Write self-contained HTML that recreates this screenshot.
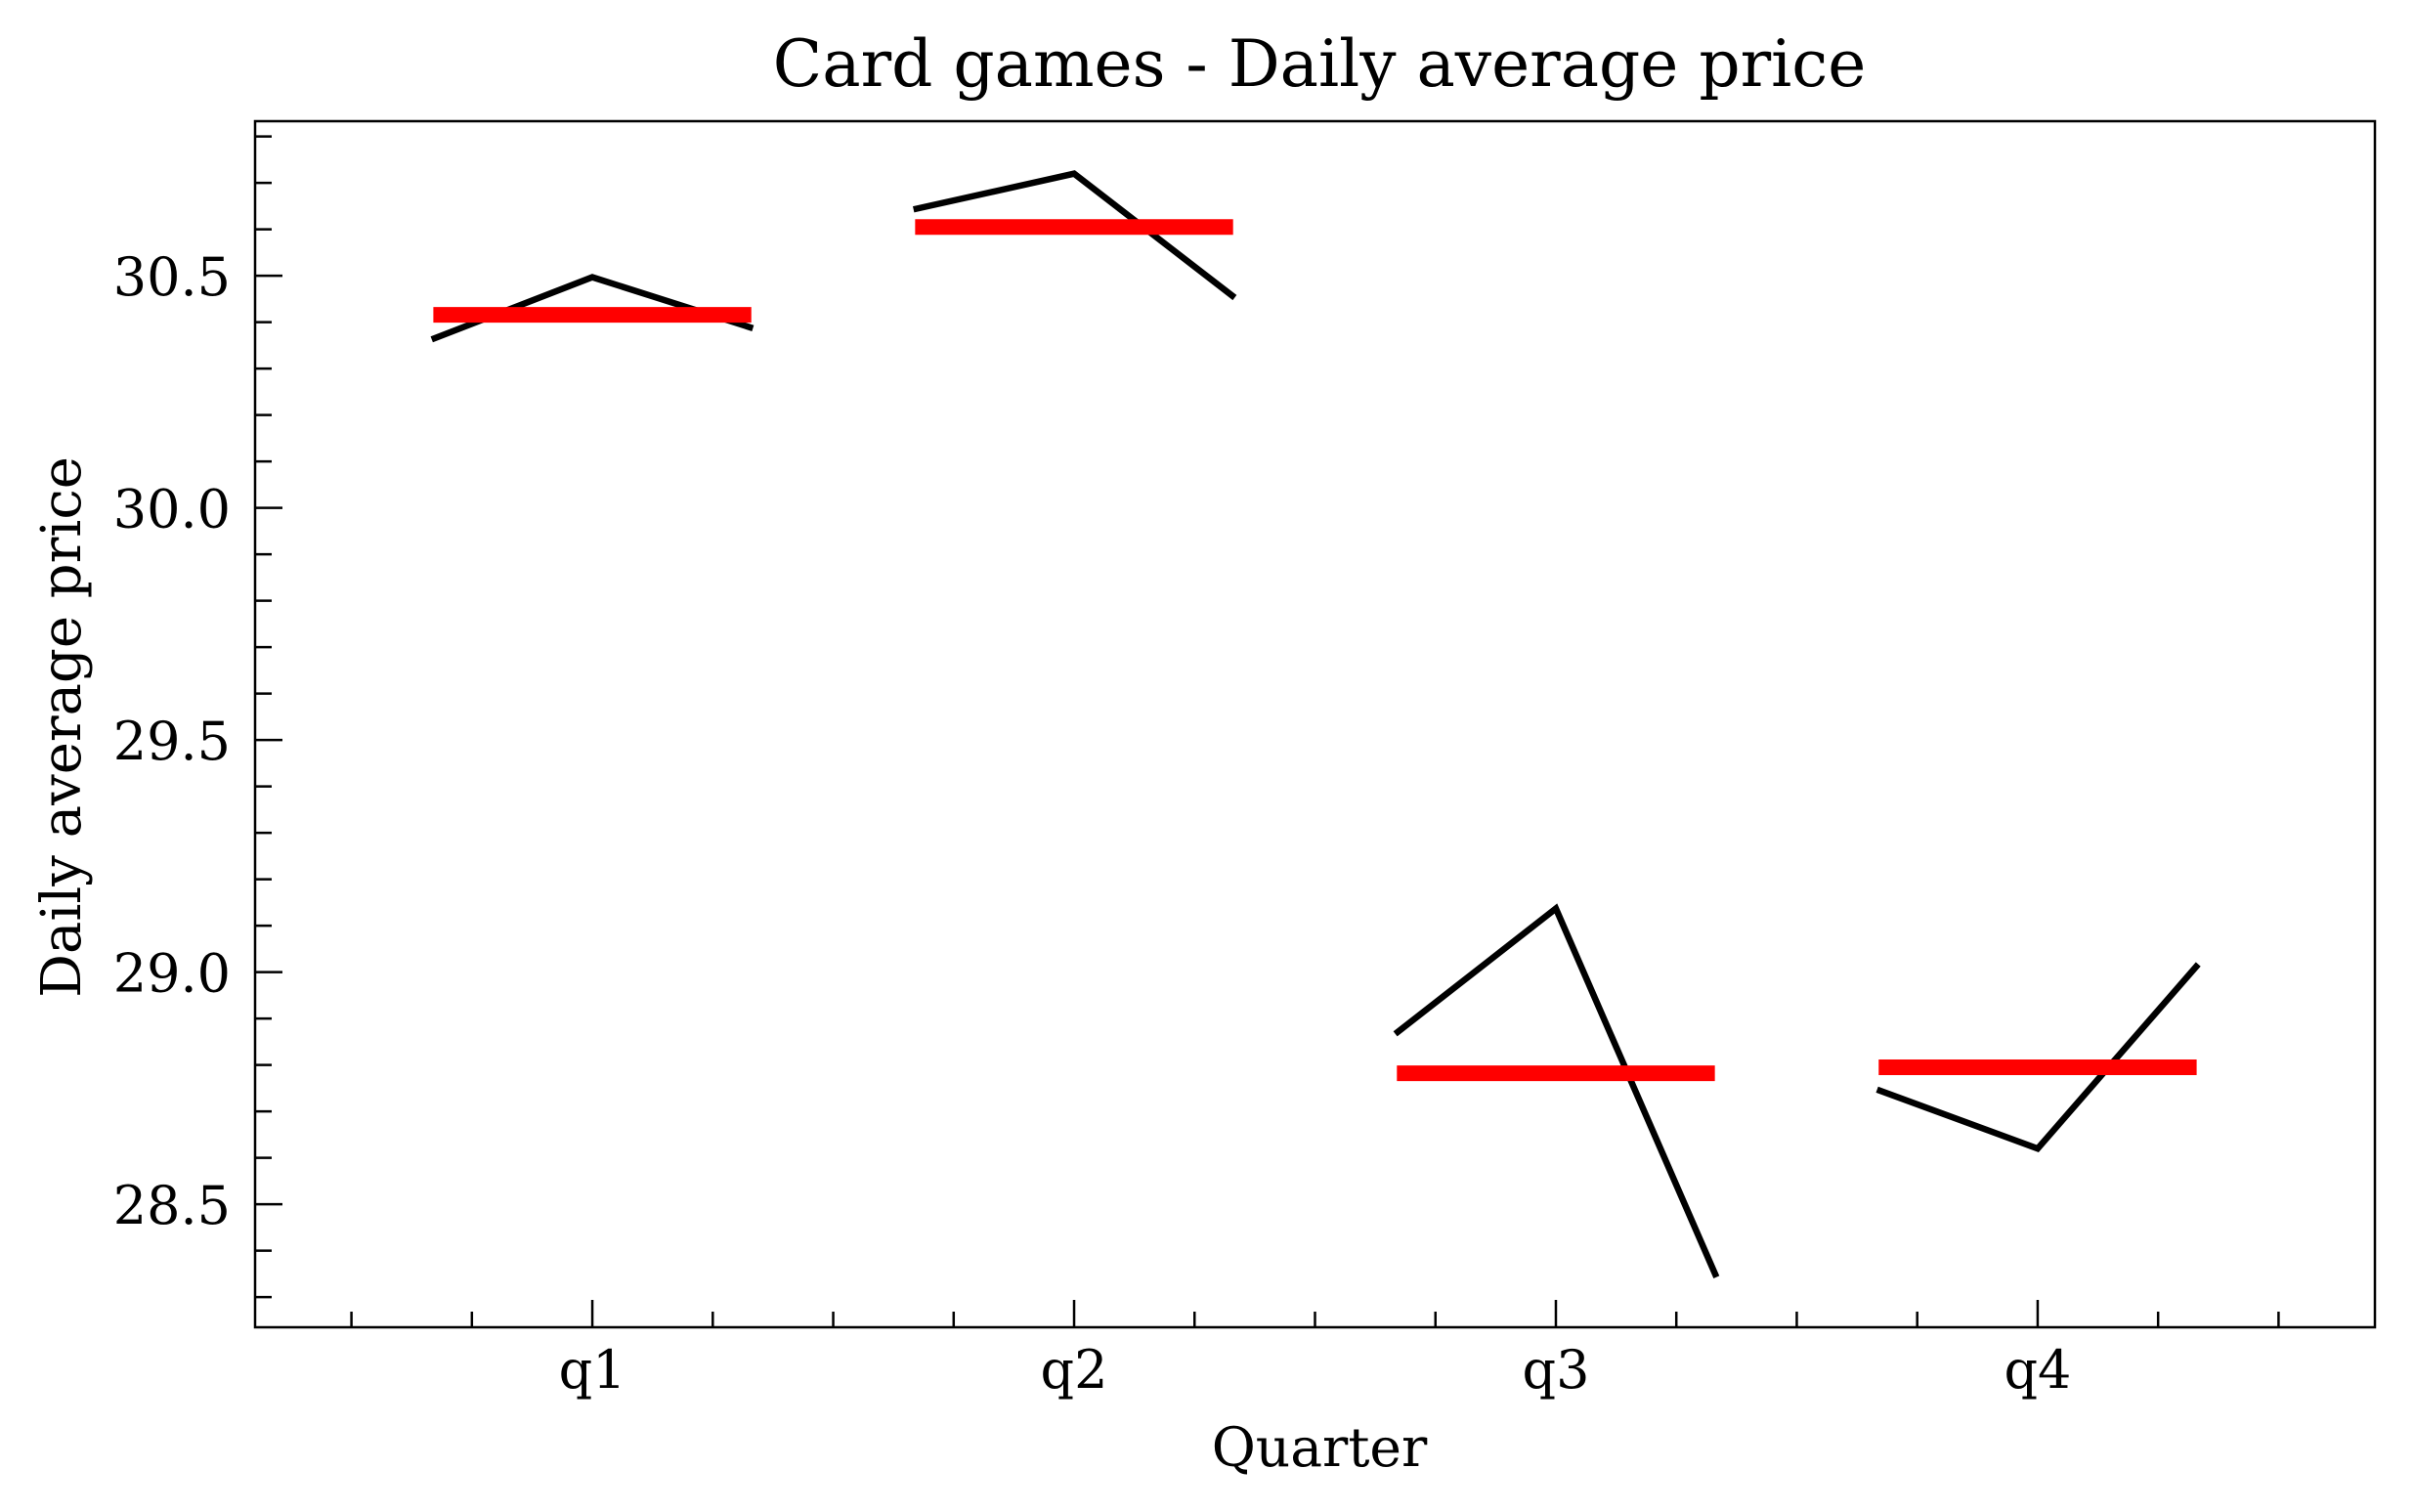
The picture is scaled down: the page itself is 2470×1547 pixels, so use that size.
<!DOCTYPE html>
<html><head><meta charset="utf-8"><style>
html,body{margin:0;padding:0;background:#fff;}
svg{display:block;font-family:"DejaVu Serif","Liberation Serif",serif;}
</style></head><body>
<svg id="chart" width="2470" height="1547" viewBox="0 0 2470 1547" xmlns="http://www.w3.org/2000/svg">
<rect width="2470" height="1547" fill="#fff"/>
<text x="1350" y="88" font-size="66" text-anchor="middle">Card games - Daily average price</text>
<text x="1350" y="1500" font-size="55" text-anchor="middle">Quarter</text>
<text transform="translate(82,744) rotate(-90)" font-size="56" text-anchor="middle">Daily average price</text>
<g id="plot"></g>
</svg>
<script>
const categories = ["q1","q2","q3","q4"];
const seriesStart = [30.363, 30.643, 28.867, 28.747];
const seriesMid = [30.497, 30.72, 29.137, 28.62];
const seriesEnd = [30.387, 30.453, 28.343, 29.017];
const means = [30.416, 30.605, 28.782, 28.795];
const yTicks = [28.5, 29.0, 29.5, 30.0, 30.5];
const yTickLabels = ["28.5","29.0","29.5","30.0","30.5"];

const L=261, R=2430, T=124, B=1358;
const xMin=-0.7, xMax=3.7, yMin=28.235, yMax=30.833;
const sx = v => L + (v - xMin) / (xMax - xMin) * (R - L);
const sy = v => B - (v - yMin) / (yMax - yMin) * (B - T);
const NS="http://www.w3.org/2000/svg";
const g=document.getElementById('plot');
function mk(tag, attrs){const e=document.createElementNS(NS,tag);for(const k in attrs)e.setAttribute(k,attrs[k]);g.appendChild(e);return e;}

categories.forEach((c,i)=>{
  const pts=[[i-1/3,seriesStart[i]],[i,seriesMid[i]],[i+1/3,seriesEnd[i]]];
  const pl=mk('polyline',{points:pts.map(p=>sx(p[0])+','+sy(p[1])).join(' '),fill:'none',stroke:'#000','stroke-width':6.5});
  
  
  const ml=mk('line',{x1:sx(i-0.33),x2:sx(i+0.33),y1:sy(means[i]),y2:sy(means[i]),stroke:'#ff0000','stroke-width':16});
  
  
});

const fr=mk('rect',{x:L,y:T,width:R-L,height:B-T,fill:'none',stroke:'#000','stroke-width':2.5});



for(let k=-2;k<=14;k++){
  const v=k*0.25; if(v<xMin||v>xMax) continue;
  const major = (k%4===0);
  const x=sx(v);
  const t=mk('line',{x1:x,x2:x,y1:B,y2:B-(major?28:16),stroke:'#000','stroke-width':2.5});
  
  
}
categories.forEach((c,i)=>{
  const t=mk('text',{x:sx(i),y:1420,'font-size':54,'text-anchor':'middle'});
  t.textContent=c;
  
  
});
for(let k=283;k<=308;k++){
  const v=k/10; if(v<yMin||v>yMax) continue;
  const major=(k%5===0);
  const y=sy(v);
  const t=mk('line',{x1:L,x2:L+(major?28:17),y1:y,y2:y,stroke:'#000','stroke-width':2.5});
  
  
}
yTicks.forEach((v,i)=>{
  const t=mk('text',{x:236,y:sy(v)+20,'font-size':54,'text-anchor':'end'});
  t.textContent=yTickLabels[i];
  
  
});
</script>
</body></html>
